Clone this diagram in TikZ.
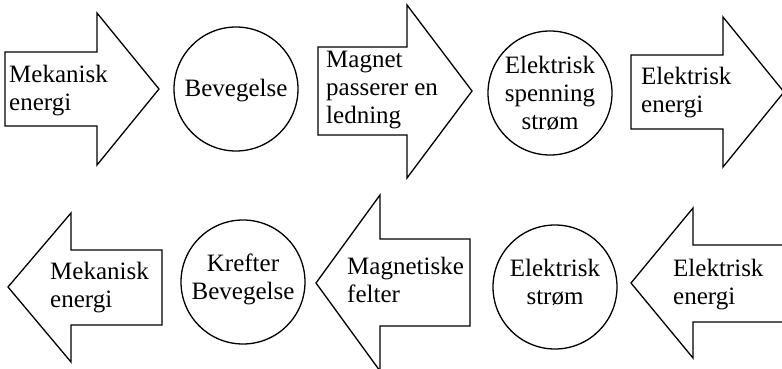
\documentclass[tikz,border=0pt]{standalone}
\usepackage{fontspec}
\setmainfont{Liberation Serif}
\tikzset{
  arrowshape/.style={draw, line width=1.3pt, line join=miter, fill=white},
  circ/.style={draw, circle, line width=1.3pt, minimum size=124pt, inner sep=0pt},
  lbl/.style={font=\fontsize{25}{28}\selectfont, inner sep=0pt, align=left, anchor=west},
  clbl/.style={font=\fontsize{25}{28}\selectfont, inner sep=0pt, align=center, anchor=center}
}
\begin{document}
\begin{tikzpicture}[x=1pt,y=-1pt]
\clip (0,0) rectangle (782,369);
% top row
\draw[arrowshape] (5,52) -- (97,52) -- (97,13) -- (159,89) -- (97,165) -- (97,126) -- (5,126) -- cycle;
\node[lbl] (t1) at (9,91) {\strut Mekanisk\\\strut energi};
\node[circ] (c1) at (236,89) {};
\node[clbl] (tc1) at (236,91) {\strut Bevegelse};
\draw[arrowshape] (318,47) -- (407,47) -- (407,5) -- (472,91) -- (407,178) -- (407,135) -- (318,135) -- cycle;
\node[lbl] (t2) at (326,90) {\strut Magnet\\\strut passerer en\\\strut ledning};
\node[circ] (c2) at (550,93) {};
\node[clbl] (tc2) at (550,96) {\strut Elektrisk\\\strut spenning\\\strut strøm};
\draw[arrowshape] (631,55) -- (723,55) -- (723,17) -- (784,92) -- (723,167) -- (723,129) -- (631,129) -- cycle;
\node[lbl] (t3) at (641,93) {\strut Elektrisk\\\strut energi};
% bottom row
\draw[arrowshape] (8,287) -- (71,213) -- (71,250) -- (162,250) -- (162,325) -- (71,325) -- (71,362) -- cycle;
\node[lbl] (t4) at (50,288) {\strut Mekanisk\\\strut energi};
\node[circ] (c3) at (243,282) {};
\node[clbl] (tc3) at (243,280) {\strut Krefter\\\strut Bevegelse};
\draw[arrowshape] (316,283) -- (380,195) -- (380,239) -- (470,239) -- (470,326) -- (380,326) -- (380,371) -- cycle;
\node[lbl] (t5) at (347,283) {\strut Magnetiske\\\strut felter};
\node[circ] (c4) at (555,287) {};
\node[clbl] (tc4) at (555,285) {\strut Elektrisk\\\strut strøm};
\draw[arrowshape] (631,283) -- (693,208) -- (693,245) -- (790,245) -- (790,322) -- (693,322) -- (693,358) -- cycle;
\node[lbl] (t6) at (673,285) {\strut Elektrisk\\\strut energi};
\end{tikzpicture}
\end{document}
